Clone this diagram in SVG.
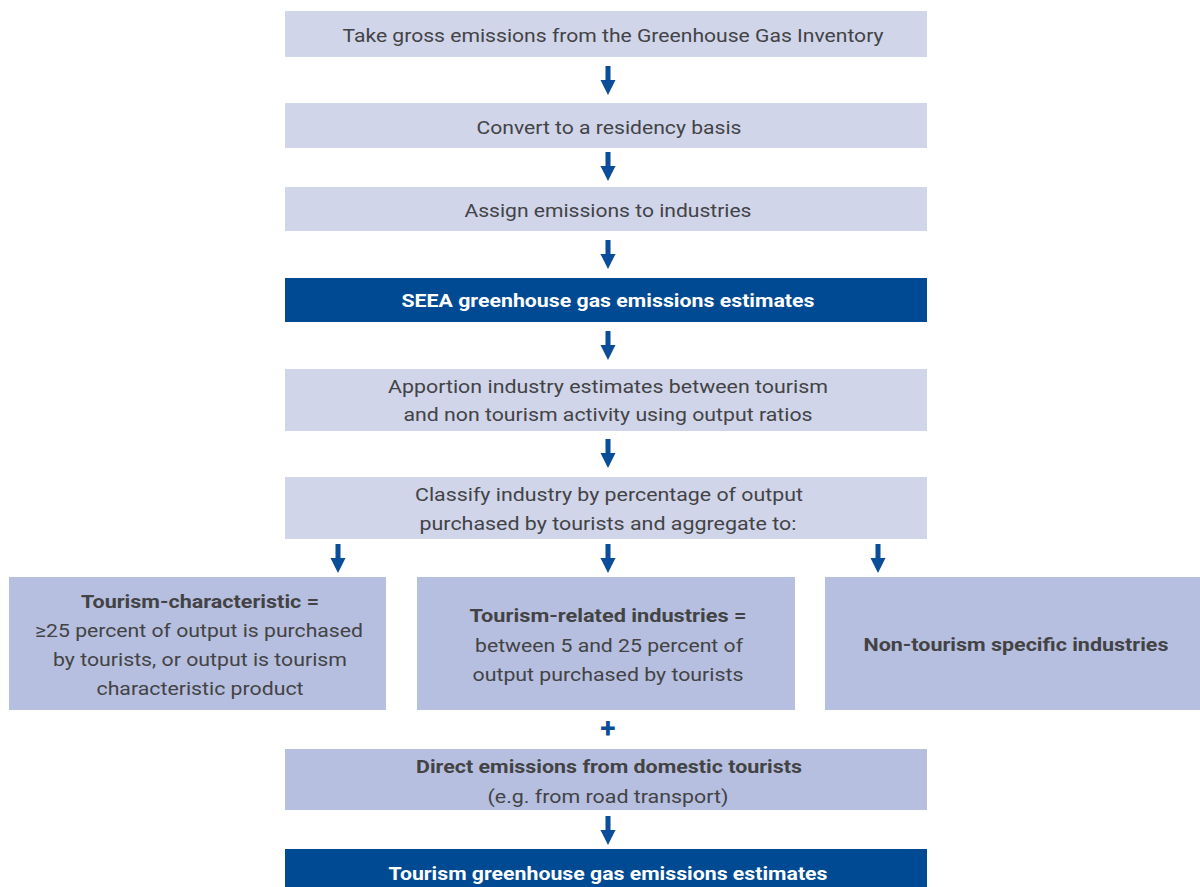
<svg xmlns="http://www.w3.org/2000/svg" width="1200" height="887" viewBox="0 0 1200 887">
<defs>
<style>
.lt{fill:#d0d5ea}
.md{fill:#b6bfdf}
.dk{fill:#004a94}
text{font-family:Roboto,"Liberation Sans",sans-serif;font-size:19px;text-anchor:middle;fill:#434345}
.b{font-weight:bold}
.w{fill:#ffffff;font-weight:bold}
.arr{fill:#0a4d98}
.plus{fill:#0a4d98;font-weight:bold;font-size:28px}
</style>
<path id="ar" d="M-2.5,0 H2.5 V14 H7.5 L0,29 L-7.5,14 H-2.5 Z"/>
</defs>
<rect width="1200" height="887" fill="#ffffff"/>
<g id="connectors" class="arr">
<use href="#ar" x="608" y="66"/>
<use href="#ar" x="608" y="152"/>
<use href="#ar" x="608" y="240"/>
<use href="#ar" x="608" y="331"/>
<use href="#ar" x="608" y="439"/>
<use href="#ar" x="338" y="544"/>
<use href="#ar" x="608" y="544"/>
<use href="#ar" x="878" y="544"/>
<use href="#ar" x="608" y="816"/>
<text class="plus" x="608" y="738">+</text>
</g>
<g id="n1"><rect class="lt" x="285" y="11" width="642" height="46"/><text x="613" y="42" textLength="541" lengthAdjust="spacingAndGlyphs">Take gross emissions from the Greenhouse Gas Inventory</text></g>
<g id="n2"><rect class="lt" x="285" y="103" width="642" height="45"/><text x="609" y="134" textLength="265" lengthAdjust="spacingAndGlyphs">Convert to a residency basis</text></g>
<g id="n3"><rect class="lt" x="285" y="187" width="642" height="44"/><text x="608" y="217" textLength="287" lengthAdjust="spacingAndGlyphs">Assign emissions to industries</text></g>
<g id="n4"><rect class="dk" x="285" y="278" width="642" height="44"/><text class="w" x="608" y="307" textLength="413" lengthAdjust="spacingAndGlyphs">SEEA greenhouse gas emissions estimates</text></g>
<g id="n5"><rect class="lt" x="285" y="369" width="642" height="62"/><text x="608" y="393" textLength="440" lengthAdjust="spacingAndGlyphs">Apportion industry estimates between tourism</text><text x="608" y="421" textLength="409" lengthAdjust="spacingAndGlyphs">and non tourism activity using output ratios</text></g>
<g id="n6"><rect class="lt" x="285" y="477" width="642" height="62"/><text x="609" y="501" textLength="388" lengthAdjust="spacingAndGlyphs">Classify industry by percentage of output</text><text x="608" y="530" textLength="377" lengthAdjust="spacingAndGlyphs">purchased by tourists and aggregate to:</text></g>
<g id="nA"><rect class="md" x="9" y="577" width="377" height="133"/><text class="b" x="200" y="608" textLength="238" lengthAdjust="spacingAndGlyphs">Tourism-characteristic =</text><text x="199" y="637" textLength="328" lengthAdjust="spacingAndGlyphs">≥25 percent of output is purchased</text><text x="200" y="666" textLength="294" lengthAdjust="spacingAndGlyphs">by tourists, or output is tourism</text><text x="200" y="695" textLength="207" lengthAdjust="spacingAndGlyphs">characteristic product</text></g>
<g id="nB"><rect class="md" x="417" y="577" width="378" height="133"/><text class="b" x="608" y="622" textLength="277" lengthAdjust="spacingAndGlyphs">Tourism-related industries =</text><text x="609" y="652" textLength="268" lengthAdjust="spacingAndGlyphs">between 5 and 25 percent of</text><text x="608" y="681" textLength="271" lengthAdjust="spacingAndGlyphs">output purchased by tourists</text></g>
<g id="nC"><rect class="md" x="825" y="577" width="375" height="133"/><text class="b" x="1016" y="651" textLength="305" lengthAdjust="spacingAndGlyphs">Non-tourism specific industries</text></g>
<g id="nD"><rect class="md" x="285" y="749" width="642" height="61"/><text class="b" x="609" y="773" textLength="386" lengthAdjust="spacingAndGlyphs">Direct emissions from domestic tourists</text><text x="608" y="803" textLength="241" lengthAdjust="spacingAndGlyphs">(e.g. from road transport)</text></g>
<g id="nE"><rect class="dk" x="285" y="849" width="642" height="38"/><text class="w" x="608" y="880" textLength="439" lengthAdjust="spacingAndGlyphs">Tourism greenhouse gas emissions estimates</text></g>
</svg>
